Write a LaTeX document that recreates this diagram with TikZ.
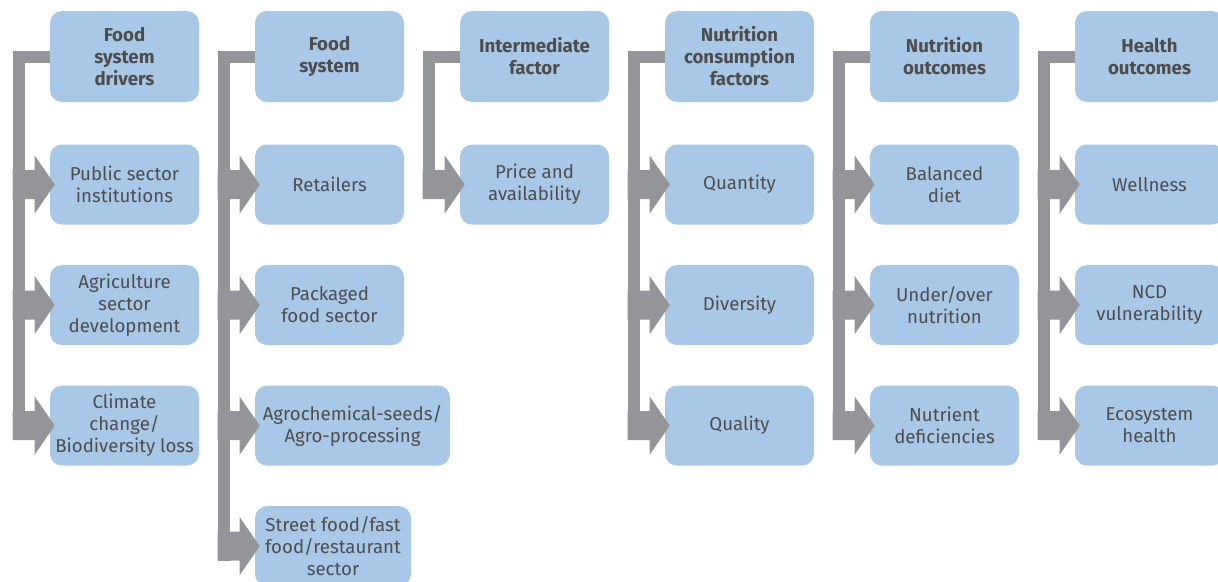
\documentclass[tikz,border=0pt]{standalone}
\usepackage{fontspec}
\setmainfont{Fira Sans}
\usetikzlibrary{calc,positioning}

\definecolor{boxblue}{HTML}{A7C8E7}
\definecolor{bargrey}{HTML}{939598}
\definecolor{textgrey}{HTML}{4D4D4F}

% block arrow from the bar into the west side of a box
\newcommand{\feed}[1]{%
  \fill[bargrey] ($(#1.west)+(-37,-14.5)$) -- ++(22,0) -- ++(0,-14.5)
    -- ($(#1.west)+(5,0)$) -- ($(#1.west)+(-15,29)$) -- ++(0,-14.5) -- ++(-22,0) -- cycle;}

\begin{document}
\begin{tikzpicture}[x=0.75pt,y=-0.75pt,node distance=30pt and 41.6pt,
    box/.style={fill=boxblue,rounded corners=9pt,text=textgrey,align=center,
      minimum width=111.75pt,minimum height=60pt,inner sep=2pt,
      font=\fontsize{14}{16.5}\selectfont},
    head/.style={box,minimum height=68.25pt,font=\fontsize{14}{16.5}\selectfont\bfseries},
    barline/.style={draw=bargrey,line width=9pt}]
			\useasboundingbox (0,0) rectangle (1218,582);
			% headers
			\node[head] (h1) at (124.5,56.5) {Food\\system\\drivers};
			\node[head] [right=of h1] (h2) {Food\\system};
			\node[head] [right=of h2] (h3) {Intermediate\\factor};
			\node[head] [right=of h3] (h4) {Nutrition\\consumption\\factors};
			\node[head] [right=of h4] (h5) {Nutrition\\outcomes};
			\node[head] [right=of h5] (h6) {Health\\outcomes};
			% food system drivers
			\node[box] [below=31.5pt of h1] (c11) {Public sector\\institutions};
			\node[box] [below=of c11] (c12) {Agriculture\\sector\\development};
			\node[box] [below=of c12] (c13) {Climate\\change/\\Biodiversity loss};
			% food system
			\node[box] [below=31.5pt of h2] (c21) {Retailers};
			\node[box] [below=of c21] (c22) {Packaged\\food sector};
			\node[box,minimum width=146.25pt] [below=of c22.south west,anchor=north west] (c23) {Agrochemical-seeds/\\Agro-processing};
			\node[box,minimum width=117pt] [below=of c23.south west,anchor=north west] (c24) {Street food/fast\\food/restaurant\\sector};
			% intermediate factor
			\node[box] [below=31.5pt of h3] (c31) {Price and\\availability};
			% nutrition consumption factors
			\node[box] [below=31.5pt of h4] (c41) {Quantity};
			\node[box] [below=of c41] (c42) {Diversity};
			\node[box] [below=of c42] (c43) {Quality};
			% nutrition outcomes
			\node[box] [below=31.5pt of h5] (c51) {Balanced\\diet};
			\node[box] [below=of c51] (c52) {Under/over\\nutrition};
			\node[box] [below=of c52] (c53) {Nutrient\\deficiencies};
			% health outcomes
			\node[box] [below=31.5pt of h6] (c61) {Wellness};
			\node[box] [below=of c61] (c62) {NCD\\vulnerability};
			\node[box] [below=of c62] (c63) {Ecosystem\\health};
			% bars and arrows
			\draw[barline] (h1.west) -| ($(c13.west)+(-31,14.5)$);
			\draw[barline] (h2.west) -| ($(c24.west)+(-31,14.5)$);
			\draw[barline] (h3.west) -| ($(c31.west)+(-31,14.5)$);
			\draw[barline] (h4.west) -| ($(c43.west)+(-31,14.5)$);
			\draw[barline] (h5.west) -| ($(c53.west)+(-31,14.5)$);
			\draw[barline] (h6.west) -| ($(c63.west)+(-31,14.5)$);
			\foreach \c in {c11,c12,c13,c21,c22,c23,c24,c31,c41,c42,c43,c51,c52,c53,c61,c62,c63}
				{\feed{\c}}
		\end{tikzpicture}
\end{document}
